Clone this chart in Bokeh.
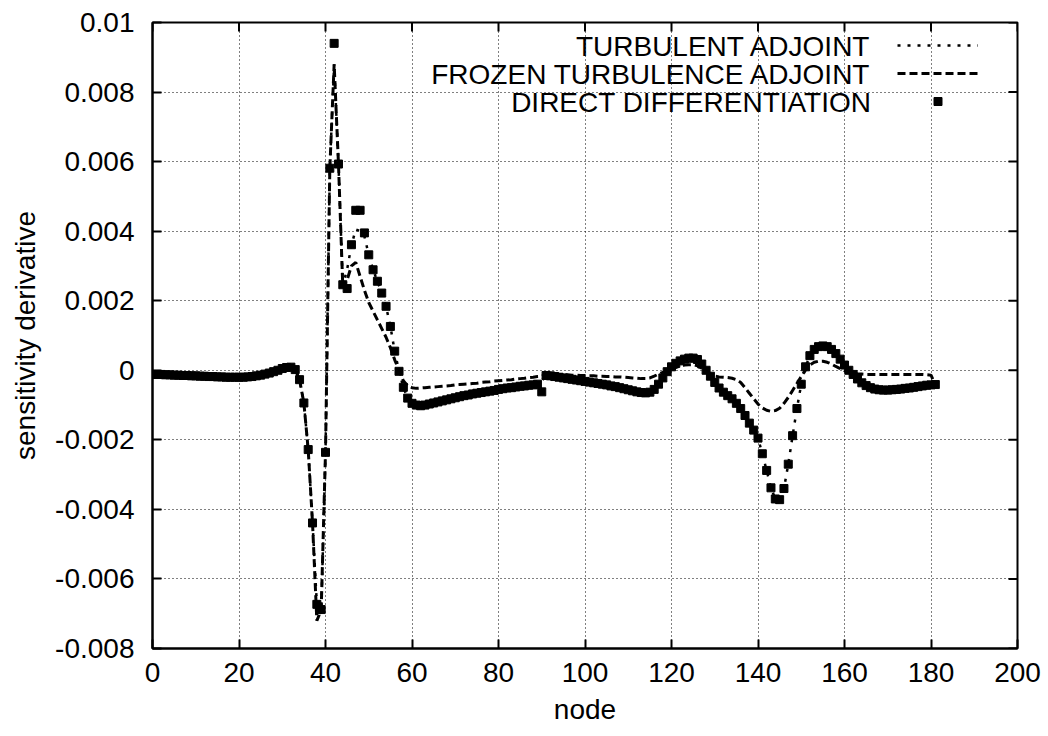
from bokeh.plotting import figure
from bokeh.models import Range1d, FixedTicker, Legend, LegendItem, Label
from bokeh.core.properties import value
from bokeh.embed import file_html
from bokeh.resources import INLINE

# ---------------- data (values in units of 1e-3) ----------------
nodes = list(range(0, 182))

direct_diff_e3 = [
    -0.12, -0.12, -0.12, -0.13, -0.13, -0.14, -0.14, -0.15, -0.15, -0.16,
    -0.16, -0.17, -0.17, -0.18, -0.18, -0.19, -0.19, -0.20, -0.20, -0.20,
    -0.20, -0.20, -0.19, -0.18, -0.16, -0.14, -0.11, -0.08, -0.04, 0.00,
    0.05, 0.08, 0.09, 0.02, -0.27, -0.94, -2.28, -4.39, -6.73, -6.88,
    -2.36, 5.81, 9.40, 5.93, 2.46, 2.35, 3.61, 4.60, 4.60, 3.95,
    3.32, 2.89, 2.56, 2.22, 1.84, 1.26, 0.55, -0.03, -0.49, -0.80,
    -0.95, -1.00, -1.02, -1.00, -0.97, -0.94, -0.91, -0.88, -0.85, -0.82,
    -0.79, -0.76, -0.73, -0.71, -0.68, -0.66, -0.64, -0.62, -0.60, -0.58,
    -0.55, -0.53, -0.51, -0.50, -0.48, -0.46, -0.45, -0.43, -0.42, -0.40,
    -0.62, -0.15, -0.16, -0.18, -0.20, -0.22, -0.24, -0.26, -0.28, -0.30,
    -0.32, -0.34, -0.36, -0.38, -0.40, -0.42, -0.45, -0.47, -0.50, -0.53,
    -0.56, -0.59, -0.62, -0.64, -0.65, -0.63, -0.55, -0.40, -0.22, -0.04,
    0.10, 0.20, 0.27, 0.32, 0.35, 0.35, 0.31, 0.18, 0.00, -0.17,
    -0.35, -0.51, -0.63, -0.73, -0.82, -0.95, -1.10, -1.30, -1.52, -1.72,
    -1.95, -2.40, -2.88, -3.38, -3.70, -3.72, -3.40, -2.70, -1.88, -1.10,
    -0.40, 0.10, 0.42, 0.60, 0.68, 0.70, 0.68, 0.60, 0.48, 0.32,
    0.15, 0.00, -0.12, -0.25, -0.36, -0.44, -0.50, -0.54, -0.56, -0.57,
    -0.57, -0.56, -0.55, -0.54, -0.52, -0.51, -0.49, -0.47, -0.45, -0.43,
    -0.42, -0.41,
]

turbulent_adjoint_e3 = [
    -0.12, -0.12, -0.12, -0.13, -0.13, -0.14, -0.14, -0.15, -0.15, -0.16,
    -0.16, -0.17, -0.17, -0.18, -0.18, -0.19, -0.19, -0.20, -0.20, -0.20,
    -0.20, -0.20, -0.19, -0.18, -0.16, -0.14, -0.11, -0.08, -0.04, 0.00,
    0.05, 0.08, 0.09, 0.02, -0.27, -0.94, -2.28, -4.39, -6.73, -7.00,
    -2.36, 5.81, 8.80, 5.93, 2.45, 2.90, 3.60, 4.05, 4.00, 3.85,
    3.32, 2.89, 2.56, 2.22, 1.84, 1.26, 0.55, -0.03, -0.49, -0.80,
    -0.95, -1.00, -1.02, -1.00, -0.97, -0.94, -0.91, -0.88, -0.85, -0.82,
    -0.79, -0.76, -0.73, -0.71, -0.68, -0.66, -0.64, -0.62, -0.60, -0.58,
    -0.55, -0.53, -0.51, -0.50, -0.48, -0.46, -0.45, -0.43, -0.42, -0.40,
    -0.30, -0.15, -0.16, -0.18, -0.20, -0.22, -0.24, -0.26, -0.28, -0.30,
    -0.32, -0.34, -0.36, -0.38, -0.40, -0.42, -0.45, -0.47, -0.50, -0.53,
    -0.56, -0.59, -0.62, -0.64, -0.65, -0.63, -0.55, -0.40, -0.22, -0.04,
    0.10, 0.20, 0.27, 0.32, 0.35, 0.35, 0.31, 0.18, 0.00, -0.17,
    -0.35, -0.51, -0.63, -0.73, -0.82, -0.95, -1.10, -1.30, -1.52, -1.72,
    -1.95, -2.40, -2.88, -3.38, -3.70, -3.72, -3.40, -2.70, -1.88, -1.10,
    -0.40, 0.10, 0.42, 0.60, 0.68, 0.70, 0.68, 0.60, 0.48, 0.32,
    0.15, 0.00, -0.12, -0.25, -0.36, -0.44, -0.50, -0.54, -0.56, -0.57,
    -0.57, -0.56, -0.55, -0.54, -0.52, -0.51, -0.49, -0.47, -0.45, -0.43,
    -0.42, -0.41,
]

frozen_adjoint_e3 = [
    -0.12, -0.12, -0.12, -0.13, -0.13, -0.14, -0.14, -0.15, -0.15, -0.16,
    -0.16, -0.17, -0.17, -0.18, -0.18, -0.19, -0.19, -0.20, -0.20, -0.20,
    -0.20, -0.20, -0.19, -0.18, -0.16, -0.14, -0.11, -0.08, -0.04, 0.00,
    0.05, 0.08, 0.09, 0.02, -0.27, -0.94, -2.28, -4.39, -7.20, -6.90,
    -2.36, 5.81, 8.80, 5.93, 2.40, 2.60, 3.00, 3.10, 2.70, 2.30,
    1.95, 1.70, 1.45, 1.20, 0.95, 0.65, 0.30, 0.00, -0.30, -0.45,
    -0.50, -0.52, -0.51, -0.50, -0.49, -0.48, -0.47, -0.46, -0.45, -0.44,
    -0.42, -0.41, -0.40, -0.39, -0.38, -0.37, -0.35, -0.34, -0.33, -0.31,
    -0.30, -0.29, -0.28, -0.27, -0.25, -0.24, -0.23, -0.21, -0.20, -0.18,
    -0.17, -0.11, -0.10, -0.11, -0.12, -0.13, -0.13, -0.14, -0.14, -0.15,
    -0.15, -0.16, -0.16, -0.17, -0.17, -0.18, -0.18, -0.19, -0.19, -0.20,
    -0.21, -0.22, -0.23, -0.24, -0.24, -0.22, -0.17, -0.11, -0.06, -0.02,
    0.03, 0.08, 0.12, 0.15, 0.16, 0.16, 0.13, 0.06, -0.03, -0.12,
    -0.17, -0.19, -0.20, -0.21, -0.23, -0.27, -0.35, -0.50, -0.66, -0.82,
    -0.97, -1.08, -1.15, -1.18, -1.16, -1.09, -0.95, -0.78, -0.58, -0.38,
    -0.18, 0.01, 0.15, 0.23, 0.26, 0.26, 0.23, 0.18, 0.11, 0.05,
    -0.01, -0.05, -0.08, -0.10, -0.11, -0.12, -0.12, -0.12, -0.12, -0.12,
    -0.12, -0.12, -0.12, -0.12, -0.12, -0.12, -0.12, -0.12, -0.12, -0.13,
    -0.14, -0.42,
]

scale = 1e-3
direct_diff = [v * scale for v in direct_diff_e3]
turbulent_adjoint = [v * scale for v in turbulent_adjoint_e3]
frozen_adjoint = [v * scale for v in frozen_adjoint_e3]

x_ticks = [0, 20, 40, 60, 80, 100, 120, 140, 160, 180, 200]
y_ticks = [-0.008, -0.006, -0.004, -0.002, 0, 0.002, 0.004, 0.006, 0.008, 0.01]
y_tick_labels = ["-0.008", "-0.006", "-0.004", "-0.002", "0",
                 "0.002", "0.004", "0.006", "0.008", "0.01"]

series_names = ["TURBULENT ADJOINT", "FROZEN TURBULENCE ADJOINT", "DIRECT DIFFERENTIATION"]

X_MIN, X_MAX = 0, 200
Y_MIN, Y_MAX = -0.008, 0.01

FONT = "Liberation Sans"
FS = "28px"

W, H = 1048, 736
BL, BR, BT, BB = 152, 31, 22, 88
FRAME_W = W - BL - BR
FRAME_H = H - BT - BB
TICK_PX = 9

p = figure(width=W, height=H,
           x_range=Range1d(X_MIN, X_MAX), y_range=Range1d(Y_MIN, Y_MAX),
           output_backend="svg", toolbar_location=None,
           min_border_left=BL, min_border_right=BR,
           min_border_top=BT, min_border_bottom=BB,
           x_axis_label="node", y_axis_label="sensitivity derivative")

p.background_fill_color = "white"
p.border_fill_color = "white"
p.outline_line_color = "black"
p.outline_line_width = 2

# grid
for g, t in ((p.xgrid[0], x_ticks), (p.ygrid[0], y_ticks)):
    g.ticker = FixedTicker(ticks=t)
    g.grid_line_color = "black"
    g.grid_line_width = 1
    g.grid_line_dash = "1 3"
    g.grid_line_alpha = 1.0

def style_axis(ax, ticks):
    ax.ticker = FixedTicker(ticks=ticks)
    ax.major_tick_in = TICK_PX
    ax.major_tick_out = 0
    ax.minor_tick_in = 0
    ax.minor_tick_out = 0
    ax.major_tick_line_color = "black"
    ax.major_tick_line_width = 2
    ax.axis_line_color = "black"
    ax.axis_line_width = 2
    ax.major_label_text_font = FONT
    ax.major_label_text_color = "black"
    ax.major_label_text_font_size = FS
    ax.axis_label_text_font = FONT
    ax.axis_label_text_font_size = FS
    ax.axis_label_text_font_style = "normal"
    ax.axis_label_text_color = "black"

xa = p.xaxis[0]
ya = p.yaxis[0]
style_axis(xa, x_ticks)
style_axis(ya, y_ticks)
xa.major_label_standoff = 14
xa.axis_label_standoff = 9
ya.major_label_standoff = 18
ya.axis_label_standoff = 11
ya.major_label_overrides = {t: s for t, s in zip(y_ticks, y_tick_labels)}

# mirror ticks on the top and right borders (gnuplot style), from the tick arrays
tick_len_y = TICK_PX * (Y_MAX - Y_MIN) / FRAME_H
tick_len_x = TICK_PX * (X_MAX - X_MIN) / FRAME_W
p.segment(x0=x_ticks, y0=[Y_MAX] * len(x_ticks),
          x1=x_ticks, y1=[Y_MAX - tick_len_y] * len(x_ticks),
          line_color="black", line_width=2)
p.segment(x0=[X_MAX] * len(y_ticks), y0=y_ticks,
          x1=[X_MAX - tick_len_x] * len(y_ticks), y1=y_ticks,
          line_color="black", line_width=2)

# series
r_ta = p.line(nodes, turbulent_adjoint, line_color="black", line_width=2.5,
              line_dash="3 7")
r_fa = p.line(nodes, frozen_adjoint, line_color="black", line_width=3,
              line_dash="8 4")
r_dd = p.scatter(nodes, direct_diff, marker="square", size=8,
                 fill_color="black", line_color="black")

# legend: samples via Bokeh legend (right), texts right-aligned to their left
legend = Legend(items=[LegendItem(label=value(" "), renderers=[r_ta]),
                       LegendItem(label=value(" "), renderers=[r_fa]),
                       LegendItem(label=value(" "), renderers=[r_dd])],
                location=(745, 537), orientation="vertical",
                glyph_width=81, glyph_height=20, label_height=20,
                label_width=0, label_standoff=0, spacing=8,
                padding=0, margin=0, label_text_font_size="10px",
                border_line_alpha=0, background_fill_alpha=0)
p.add_layout(legend)

for i, name in enumerate(series_names):
    p.add_layout(Label(x=719, y=602 - 28 * i, x_units="screen", y_units="screen",
                       text=name, text_align="right", text_baseline="middle",
                       text_font=FONT, text_font_size=FS, text_color="black"))

open("out.html", "w").write(file_html(p, INLINE))
